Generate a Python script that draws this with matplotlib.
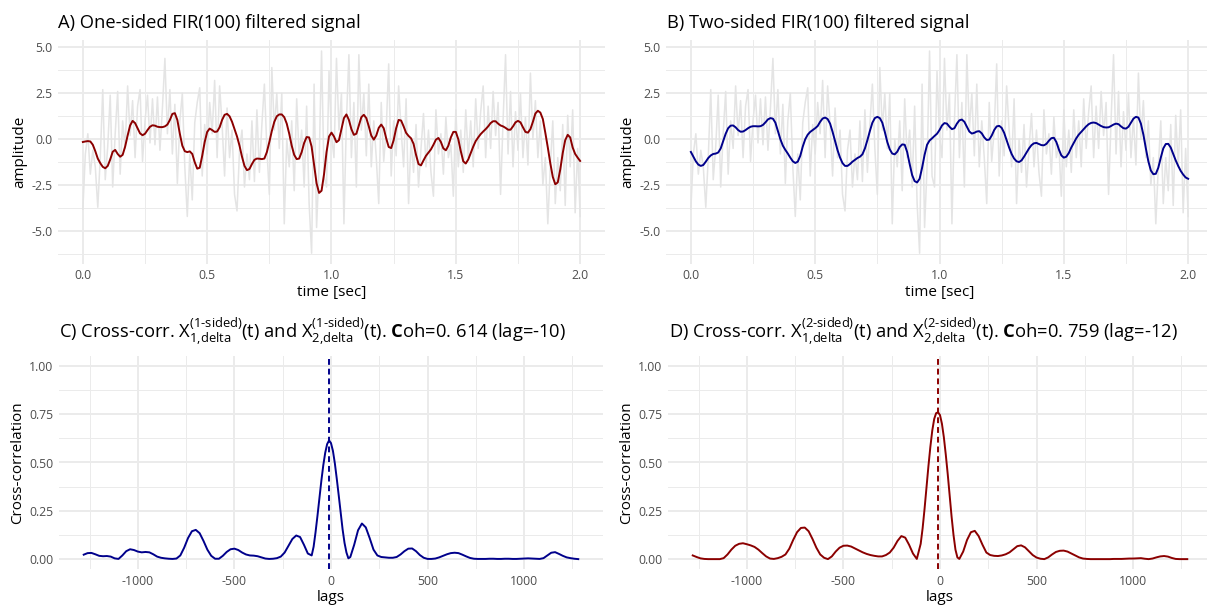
import matplotlib
matplotlib.use("Agg")
import matplotlib.pyplot as plt
import numpy as np

plt.rcParams['font.family'] = ['Open Sans', 'DejaVu Sans']
plt.rcParams['axes.unicode_minus'] = False
plt.rcParams['mathtext.fontset'] = 'custom'
plt.rcParams['mathtext.rm'] = 'Open Sans'
plt.rcParams['mathtext.it'] = 'Open Sans:italic'
plt.rcParams['mathtext.bf'] = 'Open Sans:bold'

# time axis of the signals [sec]
time = np.linspace(0, 2, 201)

# raw (unfiltered) signal, drawn in light gray in A and B
raw_signal = [
    -3.8, -0.8, 0.3, -1.9, -0.6, -1.5, -3.7, -1.0, 2.7, -2.2,
    -0.4, 2.4, -2.6, 0.3, 2.6, -1.9, 1.0, -0.5, 2.9, 0.2,
    2.1, -1.0, 1.8, 2.7, -1.2, 1.0, 2.4, -0.2, 2.2, -0.3,
    2.3, -0.6, 1.7, 4.4, 0.3, 2.7, -0.8, 1.9, -2.4, 1.0,
    2.5, -1.5, -4.2, -0.8, -3.3, 0.9, 2.0, 2.8, -2.0, 0.8,
    -0.8, 2.0, 0.3, 3.2, -1.0, 2.9, 0.8, -2.0, 1.7, -1.0,
    0.5, -3.0, -3.9, -0.6, 0.5, -2.6, -0.8, -2.2, 1.0, -2.3,
    1.6, -1.8, 0.8, 3.0, -0.5, -3.0, 3.9, 0.5, 2.5, -0.5,
    2.5, -4.6, 0.0, -1.5, 1.0, -2.8, 2.2, -1.0, 0.5, -2.6,
    1.8, -3.5, -6.2, 3.0, -4.8, -1.5, 4.8, -2.0, -2.6, 3.7,
    0.2, -1.0, 4.4, 0.5, 2.5, -4.6, 1.0, 4.6, -1.0, 2.0,
    -2.6, 4.6, 0.5, 2.5, -0.9, 3.0, -1.5, 1.0, -1.0, -3.5,
    2.0, -1.2, 0.5, 4.1, -2.0, 1.0, -0.9, 2.9, 0.5, -1.5,
    2.2, -3.5, 0.0, -1.8, 0.8, -2.6, -0.5, 1.4, -1.5, 0.5,
    -1.8, -3.1, 1.6, -0.8, 0.3, -1.9, 1.2, -1.0, -0.3, -3.1,
    1.6, -1.5, 0.5, -1.8, 1.6, -1.0, 1.0, -1.5, 2.2, -0.5,
    1.5, 2.9, -1.0, 1.8, -0.5, 2.6, 0.2, 2.0, -3.0, 1.0,
    4.6, -0.8, 2.6, -1.5, 1.5, -0.6, 2.5, -1.0, 1.2, -1.4,
    3.6, 0.0, 2.1, -1.0, 1.0, -2.5, -1.0, -4.6, -1.5, 1.0,
    -3.5, -1.0, -2.8, 0.8, -3.6, 1.3, -1.5, 1.6, -4.0, -0.5,
    -4.2,
]

# one-sided FIR(100) output
one_sided = [
    -0.15, -0.12, -0.10, -0.12, -0.30, -0.65, -1.05, -1.30, -1.50, -1.58,
    -1.45, -1.10, -0.68, -0.58, -0.80, -0.95, -0.85, -0.40, 0.20, 0.75,
    1.00, 0.88, 0.60, 0.32, 0.22, 0.30, 0.50, 0.68, 0.76, 0.74,
    0.68, 0.66, 0.66, 0.70, 0.80, 1.05, 1.38, 1.42, 1.05, 0.30,
    -0.35, -0.65, -0.70, -0.66, -0.80, -1.25, -1.60, -1.55, -0.90, -0.15,
    0.40, 0.58, 0.50, 0.40, 0.42, 0.65, 1.05, 1.33, 1.38, 1.25,
    0.95, 0.55, 0.15, -0.35, -0.95, -1.45, -1.68, -1.62, -1.35, -1.12,
    -1.05, -1.06, -1.08, -1.05, -0.70, -0.15, 0.45, 0.95, 1.25, 1.35,
    1.35, 1.20, 0.85, 0.30, -0.35, -0.85, -1.08, -1.05, -0.70, -0.20,
    0.12, 0.10, -0.40, -1.40, -2.40, -2.92, -2.80, -1.90, -0.70, 0.15,
    0.36, 0.15, -0.16, -0.05, 0.55, 1.15, 1.35, 1.05, 0.55, 0.24,
    0.30, 0.75, 1.20, 1.33, 1.15, 0.70, 0.20, -0.02, 0.20, 0.62,
    0.80, 0.60, 0.05, -0.42, -0.48, -0.05, 0.60, 1.05, 1.02, 0.70,
    0.35, 0.18, 0.05, -0.25, -0.85, -1.35, -1.42, -1.15, -0.90, -0.72,
    -0.55, -0.30, -0.02, 0.07, -0.15, -0.50, -0.60, -0.35, 0.10, 0.40,
    0.40, 0.00, -0.65, -1.20, -1.32, -1.10, -0.75, -0.40, -0.10, 0.10,
    0.28, 0.42, 0.55, 0.70, 0.88, 0.98, 0.98, 0.85, 0.75, 0.70,
    0.62, 0.52, 0.52, 0.70, 0.92, 1.00, 0.92, 0.65, 0.40, 0.36,
    0.55, 0.95, 1.40, 1.55, 1.45, 1.10, 0.35, -0.45, -1.30, -2.05,
    -2.45, -2.35, -1.65, -0.75, -0.05, 0.24, 0.10, -0.45, -0.80, -1.00,
    -1.18,
]

# two-sided FIR(100) output
two_sided = [
    -0.69, -0.95, -1.20, -1.38, -1.45, -1.40, -1.22, -1.02, -0.88, -0.80,
    -0.78, -0.72, -0.50, -0.10, 0.30, 0.60, 0.74, 0.75, 0.65, 0.50,
    0.41, 0.42, 0.50, 0.60, 0.68, 0.71, 0.71, 0.70, 0.71, 0.78,
    0.92, 1.08, 1.15, 1.12, 0.90, 0.45, 0.00, -0.35, -0.58, -0.78,
    -1.00, -1.20, -1.29, -1.22, -0.90, -0.40, 0.00, 0.25, 0.40, 0.50,
    0.60, 0.72, 0.95, 1.13, 1.18, 1.10, 0.85, 0.40, -0.10, -0.60,
    -1.00, -1.30, -1.45, -1.45, -1.35, -1.22, -1.12, -1.02, -0.95, -0.82,
    -0.50, -0.05, 0.45, 0.90, 1.15, 1.22, 1.15, 0.90, 0.40, -0.15,
    -0.55, -0.78, -0.82, -0.68, -0.42, -0.28, -0.30, -0.70, -1.35, -1.95,
    -2.28, -2.35, -2.15, -1.55, -0.85, -0.30, -0.07, 0.05, 0.18, 0.30,
    0.50, 0.75, 0.88, 0.85, 0.68, 0.55, 0.60, 0.85, 1.03, 1.07,
    0.95, 0.68, 0.42, 0.31, 0.35, 0.42, 0.44, 0.32, 0.10, -0.04,
    -0.02, 0.20, 0.50, 0.70, 0.73, 0.62, 0.35, -0.05, -0.45, -0.80,
    -1.05, -1.20, -1.24, -1.15, -0.95, -0.72, -0.50, -0.32, -0.22, -0.20,
    -0.26, -0.32, -0.33, -0.25, -0.08, 0.06, 0.08, -0.15, -0.55, -0.88,
    -1.00, -0.95, -0.75, -0.45, -0.20, 0.05, 0.25, 0.40, 0.55, 0.70,
    0.82, 0.89, 0.91, 0.88, 0.80, 0.72, 0.66, 0.64, 0.65, 0.72,
    0.80, 0.85, 0.82, 0.70, 0.60, 0.58, 0.68, 0.90, 1.12, 1.22,
    1.18, 0.85, 0.25, -0.50, -1.20, -1.70, -1.90, -1.88, -1.55, -1.00,
    -0.50, -0.26, -0.25, -0.45, -0.80, -1.15, -1.45, -1.72, -1.92, -2.08,
    -2.15,
]

# lags: coarse on the sides, finer around the main peak
lags = np.concatenate([np.arange(-1280, -100, 20),
                       np.arange(-100, 101, 10),
                       np.arange(120, 1281, 20)])

cc_one_sided = [
    0.024, 0.032, 0.033, 0.026, 0.018, 0.016, 0.017, 0.014, 0.005, 0.002,
    0.020, 0.042, 0.052, 0.048, 0.040, 0.036, 0.038, 0.036, 0.026, 0.014,
    0.008, 0.005, 0.003, 0.002, 0.004, 0.020, 0.060, 0.110, 0.145, 0.152,
    0.135, 0.095, 0.050, 0.018, 0.003, 0.003, 0.018, 0.038, 0.052, 0.055,
    0.048, 0.035, 0.025, 0.020, 0.019, 0.016, 0.010, 0.004, 0.002, 0.003,
    0.006, 0.014, 0.035, 0.070, 0.105, 0.123, 0.115, 0.075, 0.030,
    # -100 .. 100
    0.020, 0.065, 0.140, 0.225, 0.315, 0.405, 0.485, 0.550, 0.595, 0.614,
    0.600, 0.560, 0.495, 0.415, 0.330, 0.240, 0.155, 0.085, 0.035, 0.005,
    0.012,
    # 120 .. 1280
    0.075, 0.150, 0.185, 0.165, 0.110, 0.050, 0.020, 0.012, 0.010, 0.008,
    0.008, 0.012, 0.025, 0.042, 0.055, 0.056, 0.042, 0.022, 0.008, 0.002,
    0.002, 0.004, 0.010, 0.018, 0.026, 0.032, 0.034, 0.032, 0.024, 0.015,
    0.007, 0.003, 0.002, 0.002, 0.002, 0.003, 0.003, 0.002, 0.002, 0.003,
    0.003, 0.002, 0.002, 0.003, 0.004, 0.005, 0.004, 0.003, 0.002, 0.006,
    0.020, 0.034, 0.037, 0.028, 0.018, 0.010, 0.006, 0.003, 0.001,
]

cc_two_sided = [
    0.020, 0.012, 0.005, 0.002, 0.001, 0.001, 0.001, 0.001, 0.006, 0.025,
    0.050, 0.070, 0.080, 0.083, 0.078, 0.072, 0.064, 0.050, 0.032, 0.015,
    0.004, 0.002, 0.006, 0.013, 0.025, 0.055, 0.100, 0.140, 0.162, 0.164,
    0.145, 0.105, 0.060, 0.025, 0.008, 0.001, 0.015, 0.040, 0.060, 0.070,
    0.071, 0.066, 0.056, 0.046, 0.036, 0.028, 0.022, 0.018, 0.015, 0.015,
    0.022, 0.035, 0.060, 0.095, 0.120, 0.112, 0.075, 0.030, 0.002,
    # -100 .. 100
    0.080, 0.160, 0.260, 0.370, 0.480, 0.580, 0.665, 0.725, 0.755, 0.759,
    0.745, 0.700, 0.630, 0.540, 0.440, 0.330, 0.220, 0.125, 0.050, 0.010,
    0.002,
    # 120 .. 1280
    0.040, 0.100, 0.140, 0.147, 0.120, 0.075, 0.035, 0.022, 0.018, 0.017,
    0.020, 0.026, 0.036, 0.052, 0.068, 0.072, 0.062, 0.042, 0.022, 0.009,
    0.003, 0.001, 0.010, 0.025, 0.038, 0.044, 0.045, 0.040, 0.030, 0.020,
    0.010, 0.004, 0.002, 0.001, 0.001, 0.001, 0.001, 0.001, 0.001, 0.002,
    0.002, 0.002, 0.003, 0.004, 0.004, 0.005, 0.006, 0.003, 0.001, 0.004,
    0.010, 0.015, 0.017, 0.014, 0.007, 0.002, 0.001, 0.001, 0.001,
]

lag_one_sided = -10
lag_two_sided = -12

W, H = 1207, 607
fig = plt.figure(figsize=(W / 100, H / 100), dpi=100)

GRID = '#ebebeb'
TXT = '#4d4d4d'


def style(ax, xmaj, xmin, ymaj, ymin, xfmt, yfmt):
    ax.set_xticks(xmaj)
    ax.set_xticks(xmin, minor=True)
    ax.set_yticks(ymaj)
    ax.set_yticks(ymin, minor=True)
    ax.set_xticklabels([xfmt.format(v) for v in xmaj])
    ax.set_yticklabels([yfmt.format(v) for v in ymaj])
    ax.grid(which='major', color=GRID, lw=1.4)
    ax.grid(which='minor', color=GRID, lw=0.7)
    ax.set_axisbelow(True)
    for s in ax.spines.values():
        s.set_visible(False)
    ax.tick_params(which='both', length=0, labelsize=8.8, labelcolor=TXT, pad=4)


def px_axes(left, top, right, bottom):
    return fig.add_axes([left / W, 1 - bottom / H, (right - left) / W, (bottom - top) / H])


# A and B: filtered signals
for left, right, filt, col, title, tx in [
        (58, 605, one_sided, '#8b0000', 'A) One-sided FIR(100) filtered signal', 58),
        (666, 1213, two_sided, '#00008b', 'B) Two-sided FIR(100) filtered signal', 667)]:
    ax = px_axes(left, 40, right, 263.5)
    ax.plot(time, raw_signal, color='#e4e4e4', lw=1.1)
    ax.plot(time, filt, color=col, lw=1.4)
    ax.set_xlim(-0.1, 2.1)
    ax.set_ylim(-6.76, 5.40)
    style(ax, [0, 0.5, 1.0, 1.5, 2.0], [0.25, 0.75, 1.25, 1.75],
          [-5, -2.5, 0, 2.5, 5], [-6.25, -3.75, -1.25, 1.25, 3.75], '{:.1f}', '{:.1f}')
    ax.set_xlabel('time [sec]', fontsize=11, labelpad=2)
    ax.set_ylabel('amplitude', fontsize=11, labelpad=3)
    fig.text(tx / W, 1 - 27.5 / H, title, fontsize=13.2, va='baseline', ha='left')

# C and D: cross-correlations
titles_cd = [
    r"C) Cross-corr. $\mathregular{X^{\text{(1-sided)}}_{\text{1,delta}}}$(t) and "
    r"$\mathregular{X^{\text{(1-sided)}}_{\text{2,delta}}}$(t). $\mathbf{C}$oh=0. 614 (lag=-10)",
    r"D) Cross-corr. $\mathregular{X^{\text{(2-sided)}}_{\text{1,delta}}}$(t) and "
    r"$\mathregular{X^{\text{(2-sided)}}_{\text{2,delta}}}$(t). $\mathbf{C}$oh=0. 759 (lag=-12)",
]
for left, right, cc, col, peak, title, tx in [
        (59, 603, cc_one_sided, '#00008b', lag_one_sided, titles_cd[0], 59),
        (668, 1212, cc_two_sided, '#8b0000', lag_two_sided, titles_cd[1], 669)]:
    ax = px_axes(left, 356, right, 569)
    ax.plot(lags, cc, color=col, lw=1.4)
    ax.axvline(peak, color=col, lw=1.4, ls=(0, (3, 2)))
    ax.set_xlim(-1408, 1408)
    ax.set_ylim(-0.05, 1.05)
    style(ax, [-1000, -500, 0, 500, 1000], [-1250, -750, -250, 250, 750, 1250],
          [0, 0.25, 0.5, 0.75, 1.0], [0.125, 0.375, 0.625, 0.875], '{:d}', '{:.2f}')
    ax.set_xlabel('lags', fontsize=11, labelpad=2)
    ax.set_ylabel('Cross-correlation', fontsize=11, labelpad=3)
    fig.text(tx / W, 1 - 337.5 / H, title, fontsize=13.2, va='baseline', ha='left')

fig.savefig('out.png', dpi=100)
